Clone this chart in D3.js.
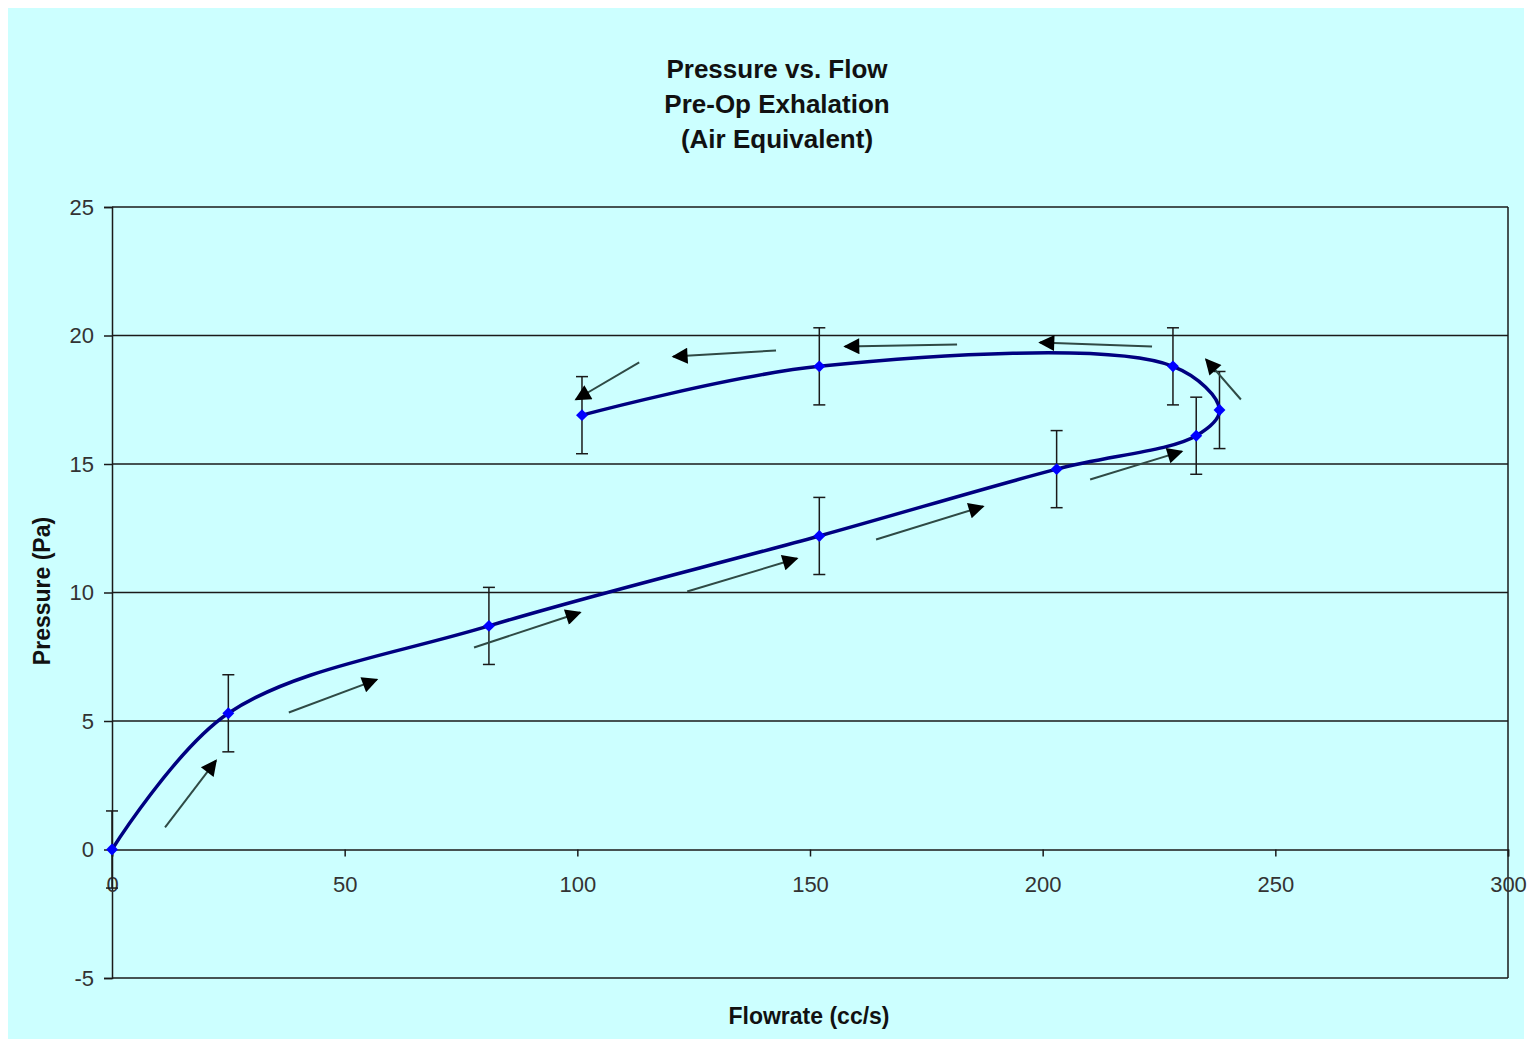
<!DOCTYPE html>
<html>
<head>
<meta charset="utf-8">
<script src="https://cdn.jsdelivr.net/npm/d3@7"></script>
<style>
  body { margin: 0; background: #ffffff; }
  svg { display: block; }
  text { font-family: "Liberation Sans", Arial, sans-serif; }
</style>
</head>
<body>
<div id="chart"></div>
<script>
// measured points, in order along the exhalation loop
var flow = [0, 25, 81, 152, 203, 233, 238, 228, 152, 101];
var pressure = [0, 5.3, 8.7, 12.2, 14.8, 16.1, 17.1, 18.8, 18.8, 16.9];
var errorPlusMinus = 1.5;

var xTicks = [0, 50, 100, 150, 200, 250, 300];
var yTicks = [-5, 0, 5, 10, 15, 20, 25];
var gridLevels = [5, 10, 15, 20];

var titleLines = ["Pressure vs. Flow", "Pre-Op Exhalation", "(Air Equivalent)"];

// direction arrows, tail -> head, in data units
var arrowTailX = [11.4, 38.0, 77.8, 123.6, 164.2, 210.2, 242.6, 223.5, 181.6, 142.7, 113.3];
var arrowTailY = [0.86, 5.33, 7.86, 10.04, 12.06, 14.40, 17.51, 19.57, 19.65, 19.42, 18.95];
var arrowHeadX = [22.35, 56.9, 100.6, 147.2, 187.2, 229.9, 235.1, 199.4, 157.5, 120.6, 99.7];
var arrowHeadY = [3.46, 6.61, 9.22, 11.32, 13.35, 15.49, 19.07, 19.73, 19.57, 19.18, 17.51];

var W = 1532, H = 1041;
var margin = { top: 207, left: 112, right: 24, bottom: 63 };
var width = W - margin.left - margin.right,
    height = H - margin.top - margin.bottom;

var svg = d3.select("#chart").append("svg")
    .attr("width", W)
    .attr("height", H);

// chart background
svg.append("rect")
    .attr("x", 8).attr("y", 8)
    .attr("width", W - 16).attr("height", H - 10)
    .attr("fill", "#ccffff");

var g = svg.append("g")
    .attr("transform", "translate(" + margin.left + "," + margin.top + ")");

var x = d3.scaleLinear().domain([0, 300]).range([0, width]);
var y = d3.scaleLinear().domain([-5, 25]).range([height, 0]);

var ink = "#1a1a1a";

// gridlines + frame
g.selectAll(".grid").data(gridLevels.concat([25, -5])).enter().append("line")
    .attr("x1", 0).attr("x2", width)
    .attr("y1", function(d) { return y(d); })
    .attr("y2", function(d) { return y(d); })
    .attr("stroke", ink).attr("stroke-width", 1.5);

g.append("line").attr("x1", x(300)).attr("x2", x(300)).attr("y1", y(25)).attr("y2", y(-5))
    .attr("stroke", ink).attr("stroke-width", 1.5);

// y axis on x = 0
var yAxis = g.append("g")
    .call(d3.axisLeft(y).tickValues(yTicks).tickSize(8).tickPadding(10)
        .tickFormat(function(d) { return String(d); }));
yAxis.select(".domain").attr("stroke", ink).attr("stroke-width", 1.5);
yAxis.selectAll(".tick line").attr("stroke", ink).attr("stroke-width", 1.5);
yAxis.selectAll("text").attr("font-size", 22).attr("fill", "#333");

// x axis on y = 0
var xAxis = g.append("g")
    .attr("transform", "translate(0," + y(0) + ")")
    .call(d3.axisBottom(x).tickValues(xTicks).tickSize(7).tickPadding(20)
        .tickFormat(function(d) { return String(d); }));
xAxis.select(".domain").attr("stroke", ink).attr("stroke-width", 1.5);
xAxis.selectAll(".tick line").attr("stroke", ink).attr("stroke-width", 1.5);
xAxis.selectAll("text").attr("font-size", 22).attr("fill", "#333");

var pts = flow.map(function(f, i) { return { x: f, y: pressure[i] }; });

// error bars
var eb = g.selectAll(".err").data(pts).enter().append("g").attr("class", "err");
eb.append("line")
    .attr("x1", function(d) { return x(d.x); })
    .attr("x2", function(d) { return x(d.x); })
    .attr("y1", function(d) { return y(d.y + errorPlusMinus); })
    .attr("y2", function(d) { return y(d.y - errorPlusMinus); })
    .attr("stroke", ink).attr("stroke-width", 1.5);
[1, -1].forEach(function(s) {
    eb.append("line")
        .attr("x1", function(d) { return x(d.x) - 6; })
        .attr("x2", function(d) { return x(d.x) + 6; })
        .attr("y1", function(d) { return y(d.y + s * errorPlusMinus); })
        .attr("y2", function(d) { return y(d.y + s * errorPlusMinus); })
        .attr("stroke", ink).attr("stroke-width", 1.5);
});

// smoothed series line
var line = d3.line()
    .x(function(d) { return x(d.x); })
    .y(function(d) { return y(d.y); })
    .curve(d3.curveCatmullRom.alpha(0.5));

g.append("path")
    .datum(pts)
    .attr("d", line)
    .attr("fill", "none")
    .attr("stroke", "#000080")
    .attr("stroke-width", 3.5);

// diamond markers
g.selectAll(".mark").data(pts).enter().append("path")
    .attr("d", d3.symbol().type(d3.symbolDiamond2).size(90))
    .attr("transform", function(d) { return "translate(" + x(d.x) + "," + y(d.y) + ")"; })
    .attr("fill", "#0000ff");

// arrows
var defs = svg.append("defs");
defs.append("marker")
    .attr("id", "ah")
    .attr("viewBox", "0 0 10 10")
    .attr("refX", 9).attr("refY", 5)
    .attr("markerWidth", 21).attr("markerHeight", 16)
    .attr("markerUnits", "userSpaceOnUse")
    .attr("orient", "auto")
    .append("path").attr("d", "M0,0 L10,5 L0,10 Z").attr("fill", "#000");

g.selectAll(".arrow").data(arrowTailX).enter().append("line")
    .attr("x1", function(d, i) { return x(arrowTailX[i]); })
    .attr("y1", function(d, i) { return y(arrowTailY[i]); })
    .attr("x2", function(d, i) { return x(arrowHeadX[i]); })
    .attr("y2", function(d, i) { return y(arrowHeadY[i]); })
    .attr("stroke", "#2f4a45")
    .attr("stroke-width", 2)
    .attr("marker-end", "url(#ah)");

// titles
svg.selectAll(".title").data(titleLines).enter().append("text")
    .attr("x", 777)
    .attr("y", function(d, i) { return 78 + i * 35; })
    .attr("text-anchor", "middle")
    .attr("font-size", 26)
    .attr("font-weight", "bold")
    .attr("fill", "#111")
    .text(function(d) { return d; });

svg.append("text")
    .attr("x", 809).attr("y", 1024)
    .attr("text-anchor", "middle")
    .attr("font-size", 23).attr("font-weight", "bold").attr("fill", "#111")
    .text("Flowrate (cc/s)");

svg.append("text")
    .attr("transform", "translate(50,591) rotate(-90)")
    .attr("text-anchor", "middle")
    .attr("font-size", 23).attr("font-weight", "bold").attr("fill", "#111")
    .text("Pressure (Pa)");
</script>
</body>
</html>
